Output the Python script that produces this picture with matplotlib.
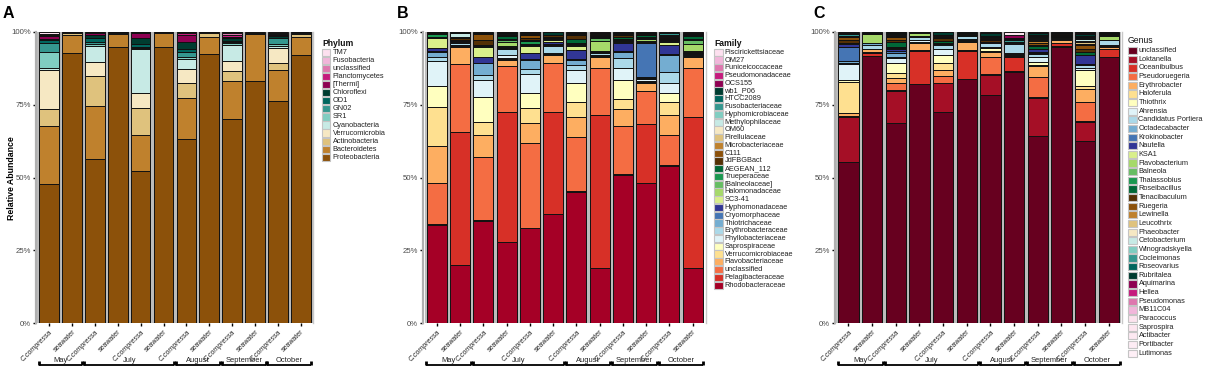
import matplotlib
matplotlib.use('Agg')
import matplotlib.pyplot as plt
import matplotlib.transforms as mtransforms
from matplotlib.patches import Rectangle
import numpy as np

plt.rcParams['font.family'] = ['Liberation Sans', 'DejaVu Sans']

W, H = 1205, 371

# ---------------- data ----------------
sample_labels = ['C.compressa', 'seawater'] * 6
months = ['May', 'July', 'August', 'September', 'October']
month_spans = [(0, 1), (2, 5), (6, 7), (8, 9), (10, 11)]

# Panel A: phyla (bottom -> top)
phylum_names = ['Proteobacteria', 'Bacteroidetes', 'Actinobacteria', 'Verrucomicrobia',
                'Cyanobacteria', 'SR1', 'GN02', 'OD1', 'Chloroflexi', '[Thermi]',
                'Planctomycetes', 'unclassified', 'Fusobacteria', 'TM7']
phylum_colors = ['#8C510A', '#BF812D', '#DFC27D', '#F6E8C3', '#C7EAE5', '#80CDC1',
                 '#35978F', '#01665E', '#003C30', '#8E0152', '#C51B7D', '#DE77AE',
                 '#F1B6DA', '#FDE0EF']
phylum_values = [
    [47.8, 92.9, 56.3, 94.7, 52.3, 95.0, 63.1, 92.4, 70.2, 83.0, 76.3, 92.1],
    [19.9, 6.1, 18.3, 4.7, 12.4, 4.8, 14.1, 6.0, 12.8, 16.3, 10.6, 6.1],
    [5.8, 0.6, 10.3, 0.3, 9.2, 0.1, 5.3, 1.3, 3.5, 0.5, 2.5, 1.1],
    [13.5, 0.2, 4.8, 0.1, 5.3, 0.1, 4.9, 0.2, 3.4, 0.2, 5.0, 0.4],
    [0.6, 0.1, 5.5, 0.1, 14.8, 0, 3.3, 0.1, 5.5, 0, 0.8, 0.2],
    [5.4, 0.1, 0.7, 0.1, 0.5, 0, 0.7, 0, 0.9, 0, 0.7, 0.1],
    [3.2, 0, 0.7, 0, 0.5, 0, 1.8, 0, 0.3, 0, 1.9, 0],
    [1.0, 0, 1.2, 0, 0.9, 0, 1.0, 0, 0.3, 0, 0.3, 0],
    [0.3, 0, 1.0, 0, 2.0, 0, 2.5, 0, 0.9, 0, 0.5, 0],
    [1.2, 0, 0.7, 0, 1.8, 0, 2.3, 0, 0.4, 0, 0.3, 0],
    [0.3, 0, 0.2, 0, 0.2, 0, 0.7, 0, 0.8, 0, 0.3, 0],
    [0.2, 0, 0.1, 0, 0.1, 0, 0.2, 0, 0.6, 0, 0.2, 0],
    [0.2, 0, 0.1, 0, 0, 0, 0.1, 0, 0.3, 0, 0.2, 0],
    [0.6, 0, 0.1, 0, 0, 0, 0, 0, 0.1, 0, 0.4, 0],
]

# Panel B: families (bottom -> top)
family_names = ['Rhodobacteraceae', 'Pelagibacteraceae', 'unclassified', 'Flavobacteriaceae',
                'Verrucomicrobiaceae', 'Saprospiraceae', 'Phyllobacteriaceae',
                'Erythrobacteraceae', 'Thiotrichaceae', 'Cryomorphaceae', 'Hyphomonadaceae',
                'SC3-41', 'Halomonadaceae', '[Balneolaceae]', 'Trueperaceae', 'AEGEAN_112',
                'JdFBGBact', 'C111', 'Microbacteriaceae', 'Pirellulaceae', 'OM60',
                'Methylophilaceae', 'Hyphomicrobiaceae', 'Fusobacteriaceae', 'HTCC2089',
                'wb1_P06', 'OCS155', 'Pseudomonadaceae', 'Puniceicoccaceae', 'OM27',
                'Piscirickettsiaceae']
family_colors = ['#A50026', '#D73027', '#F46D43', '#FDAE61', '#FEE090', '#FFFFBF',
                 '#E0F3F8', '#ABD9E9', '#74ADD1', '#4575B4', '#313695', '#D9EF8B',
                 '#A6D96A', '#66BD63', '#1A9850', '#006837', '#543005', '#8C510A',
                 '#BF812D', '#DFC27D', '#F6E8C3', '#C7EAE5', '#80CDC1', '#35978F',
                 '#01665E', '#003C30', '#8E0152', '#C51B7D', '#DE77AE', '#F1B6DA',
                 '#FDE0EF']
family_values = [
    [33.7, 20.1, 35.2, 27.9, 32.5, 37.3, 45.1, 18.8, 50.9, 48.2, 54.1, 18.8],
    [0.3, 45.6, 0.2, 44.5, 0.2, 35.1, 0.2, 52.7, 0.2, 20.2, 0.2, 51.9],
    [14.0, 23.2, 21.5, 15.8, 29.3, 16.8, 18.7, 16.0, 16.6, 11.4, 10.3, 16.9],
    [12.8, 5.8, 7.6, 2.2, 6.8, 2.9, 6.9, 4.0, 5.7, 2.8, 6.9, 3.9],
    [13.5, 0.3, 4.7, 0.3, 5.2, 0.2, 5.2, 0.3, 3.7, 0.2, 4.6, 0.3],
    [7.2, 0.2, 8.6, 0.2, 4.9, 0.2, 6.3, 0.2, 6.4, 0.2, 3.1, 0.2],
    [8.7, 0.3, 5.7, 1.2, 6.7, 0.3, 4.5, 0.2, 4.0, 0.7, 3.4, 0.2],
    [1.1, 0.8, 1.6, 2.2, 1.8, 2.4, 1.8, 0.5, 3.4, 0.6, 3.8, 0.3],
    [1.8, 0.4, 4.1, 0.3, 3.0, 0.3, 1.7, 0.2, 2.3, 0.3, 5.7, 0.2],
    [0.3, 0.2, 0.2, 0.2, 0.2, 0.3, 0.3, 0.2, 0.3, 11.6, 0.2, 0.2],
    [1.0, 0.2, 2.1, 0.2, 2.3, 0.9, 3.1, 0.2, 2.6, 0.3, 3.2, 0.2],
    [3.4, 0.1, 3.3, 0.3, 2.4, 0.5, 1.4, 0.3, 0.4, 0.3, 0.9, 0.4],
    [0.3, 0, 0.2, 1.2, 0.2, 0.4, 0.2, 3.2, 0.3, 0.7, 0.3, 2.3],
    [0.3, 0, 0.2, 0.8, 0.3, 0.2, 0.4, 1.3, 0.5, 0.6, 0.2, 1.5],
    [0.8, 0, 0.2, 0.3, 1.0, 0.2, 0.3, 0.2, 0.3, 0.3, 0.2, 0.2],
    [0.5, 0, 0.2, 1.0, 0.3, 0.3, 1.5, 0.3, 0.8, 0.5, 0.3, 1.2],
    [0.1, 0.6, 1.6, 0.4, 0.8, 0.5, 1.2, 0.2, 0.4, 0.5, 0.3, 0.2],
    [0.1, 0.5, 2.0, 0.4, 1.2, 0.3, 0.6, 0.2, 0.5, 0.4, 0.3, 0.2],
    [0.1, 0, 0.4, 0, 0.3, 0, 0.2, 0.2, 0.2, 0, 0.3, 0],
    [0, 0, 0.1, 0, 0.2, 0, 0, 0.3, 0, 0, 0, 0],
    [0, 0, 0, 0, 0.2, 0, 0.2, 0.1, 0, 0, 0, 0],
    [0, 1.2, 0, 0.2, 0.1, 0, 0, 0, 0, 0, 0.2, 0],
    [0, 0, 0, 0, 0, 0, 0, 0, 0, 0, 0.4, 0],
    [0, 0, 0, 0, 0, 0, 0, 0, 0.2, 0, 0.6, 0],
    [0, 0, 0.3, 0, 0.1, 0, 0, 0, 0.3, 0, 0.3, 0],
    [0, 0.4, 0, 0.3, 0, 0.8, 0.2, 0, 0, 0.2, 0, 0.2],
    [0, 0, 0, 0, 0, 0.1, 0, 0, 0, 0, 0, 0.5],
    [0, 0, 0, 0, 0, 0, 0, 0.4, 0, 0, 0, 0.2],
    [0, 0, 0, 0, 0, 0, 0, 0, 0, 0, 0, 0],
    [0, 0, 0, 0, 0, 0, 0, 0, 0, 0, 0, 0],
    [0, 0.1, 0, 0.1, 0, 0, 0, 0, 0, 0, 0.2, 0],
]

# Panel C: genera (bottom -> top)
genus_names = ['unclassified', 'Loktanella', 'Oceanibulbus', 'Pseudoruegeria', 'Erythrobacter',
               'Haloferula', 'Thiothrix', 'Ahrensia', 'Candidatus Portiera', 'Octadecabacter',
               'Krokinobacter', 'Nautella', 'KSA1', 'Flavobacterium', 'Balneola',
               'Thalassobius', 'Roseibacillus', 'Tenacibaculum', 'Ruegeria', 'Lewinella',
               'Leucothrix', 'Phaeobacter', 'Cetobacterium', 'Winogradskyella', 'Cocleimonas',
               'Roseovarius', 'Rubritalea', 'Aquimarina', 'Hellea', 'Pseudomonas', 'MB11C04',
               'Paracoccus', 'Saprospira', 'Actibacter', 'Portibacter', 'Lutimonas']
genus_colors = ['#67001F', '#A50F26', '#D73027', '#F46D43', '#FDAE61', '#FEE090',
                '#FFFFBF', '#E0F3F8', '#ABD9E9', '#74ADD1', '#4575B4', '#313695',
                '#D9EF8B', '#A6D96A', '#66BD63', '#1A9850', '#006837', '#543005',
                '#8C510A', '#BF812D', '#DFC27D', '#F6E8C3', '#C7EAE5', '#80CDC1',
                '#35978F', '#01665E', '#003C30', '#8E0152', '#C51B7D', '#DE77AE',
                '#F1B6DA', '#FCE3EE', '#FDE6F0', '#FDE9F2', '#FDECF4', '#FEEFF6']
genus_values = [
    [55.2, 91.8, 68.8, 82.0, 72.4, 83.7, 78.4, 86.4, 64.3, 95.0, 62.7, 91.3],
    [15.5, 0.1, 11.0, 0.2, 10.0, 0.2, 6.8, 0.2, 12.9, 0.1, 6.5, 0.2],
    [0.2, 1.0, 0.3, 11.4, 0.2, 9.7, 0.3, 4.9, 0.3, 1.1, 0.3, 2.6],
    [0.2, 0.2, 2.5, 0.3, 2.4, 0.2, 5.8, 0.2, 6.9, 0.1, 6.6, 0.2],
    [1.0, 0.9, 1.5, 2.2, 1.9, 2.9, 1.9, 0.3, 3.9, 0.9, 4.2, 0.5],
    [10.6, 0.1, 1.9, 0.2, 2.3, 0.2, 0.3, 0.2, 0.4, 0, 1.1, 0.1],
    [0.8, 0, 3.5, 0.4, 2.9, 0.3, 1.0, 0.2, 1.1, 0, 5.5, 0.2],
    [5.4, 0, 1.5, 0.6, 1.9, 0.4, 0.4, 0.4, 1.5, 0.3, 0.7, 0.3],
    [0.4, 1.4, 0.5, 0.9, 1.5, 1.0, 1.2, 3.0, 1.1, 0.6, 1.1, 1.8],
    [0.6, 0.8, 1.2, 0.3, 0.3, 0, 0.3, 0.3, 0.4, 0, 0.2, 0.2],
    [4.9, 0, 0.6, 0, 0.2, 0, 0, 0, 0.2, 0, 0.2, 0],
    [1.2, 0, 0.7, 0, 0.3, 0, 0, 0, 1.0, 0, 3.0, 0],
    [0.1, 0, 0.2, 0, 0, 0, 0, 0, 0, 0, 0, 0],
    [0.1, 2.9, 0.2, 1.2, 0, 0.3, 0, 0, 0, 0.3, 0, 1.2],
    [0, 0, 0.2, 0.2, 0, 0, 0, 0, 0, 0, 0, 0.5],
    [0, 0, 0.3, 0, 0, 0, 0, 0, 0, 0, 0, 0],
    [0, 0, 1.5, 0, 0.5, 0, 0.3, 0, 1.2, 0.3, 1.0, 0.3],
    [1.2, 0.4, 1.0, 0, 1.0, 0, 0.6, 0, 0.4, 0.3, 1.2, 0.3],
    [0.8, 0, 1.0, 0, 0.5, 0.3, 0.4, 0, 0.5, 0.3, 1.2, 0],
    [0.3, 0, 0.3, 0, 0.3, 0, 0.2, 0, 0.7, 0, 0.4, 0],
    [0, 0, 0.3, 0, 0.2, 0.6, 0.4, 0, 0.3, 0.5, 0.5, 0],
    [0, 0, 0.2, 0, 0, 0, 0, 0, 0.4, 0, 0.5, 0],
    [0, 0, 0.2, 0, 0, 0, 0, 0.3, 0.6, 0, 0.6, 0],
    [0, 0, 0, 0, 0, 0, 0, 0.2, 0.2, 0, 0.4, 0],
    [0.8, 0, 0.2, 0, 0, 0, 0, 0.5, 0.4, 0, 0.4, 0],
    [0.3, 0, 0.3, 0, 0.3, 0, 0.3, 0.5, 0.4, 0, 0.4, 0],
    [0.2, 0.4, 0.1, 0.1, 0.8, 0.2, 1.0, 0.3, 0.5, 0.2, 0.5, 0.3],
    [0, 0, 0, 0, 0.1, 0, 0.2, 1.0, 0.4, 0, 0.4, 0],
    [0, 0, 0, 0, 0, 0, 0, 0, 0, 0, 0.3, 0],
    [0, 0, 0, 0, 0, 0, 0, 0, 0, 0, 0.1, 0],
    [0, 0, 0, 0, 0, 0, 0, 0, 0, 0, 0, 0],
    [0.2, 0, 0, 0, 0, 0, 0.2, 1.1, 0, 0, 0, 0],
    [0, 0, 0, 0, 0, 0, 0, 0, 0, 0, 0, 0],
    [0, 0, 0, 0, 0, 0, 0, 0, 0, 0, 0, 0],
    [0, 0, 0, 0, 0, 0, 0, 0, 0, 0, 0, 0],
    [0, 0, 0, 0, 0, 0, 0, 0, 0, 0, 0, 0],
]

# ---------------- drawing ----------------
fig = plt.figure(figsize=(W / 100, H / 100), dpi=100)

Y0, Y1 = 323, 32  # pixel rows for 0% and 100%


def fx(x):
    return x / W


def fy(y):
    return 1 - y / H


def draw_panel(left_px, right_px, names, colors, values, xlim, ylabel=None):
    ax = fig.add_axes([fx(left_px), fy(Y0), (right_px - left_px) / W, (Y0 - Y1) / H])
    vals = np.array(values, dtype=float) / 100.0
    n = vals.shape[1]
    x = np.arange(n)
    tot = vals.sum(axis=0)
    ax.bar(x, tot, width=0.93, color='none', edgecolor='#b5b5b5', linewidth=1.3, zorder=1)
    bottom = np.zeros(n)
    for row, c in zip(vals, colors):
        m = row > 0
        ax.bar(x[m], row[m], bottom=bottom[m], width=0.86, color=c,
               edgecolor='#111111', linewidth=0.7, zorder=2)
        bottom += row
    ax.set_xlim(*xlim)
    ax.set_ylim(0, 1.0)
    ax.set_yticks([0, 0.25, 0.5, 0.75, 1.0])
    ax.set_yticklabels(['0%', '25%', '50%', '75%', '100%'])
    ax.set_xticks(x)
    ax.set_xticklabels(sample_labels, rotation=45, ha='right', va='top',
                       rotation_mode='anchor')
    for lab in ax.get_xticklabels():
        if lab.get_text().startswith('C.'):
            lab.set_fontstyle('italic')
    ax.tick_params(axis='y', length=2.5, width=1.0, color='black', labelsize=5.6,
                   labelcolor='#4a4a4a', pad=1)
    ax.tick_params(axis='x', length=2.5, width=1.0, color='black', labelsize=5.0,
                   labelcolor='#222222', pad=1.5)
    for s in ['top', 'bottom']:
        ax.spines[s].set_visible(False)
    ax.spines['left'].set_color('#b0b0b0')
    ax.spines['left'].set_linewidth(1.6)
    ax.spines['right'].set_color('#c8c8c8')
    ax.spines['right'].set_linewidth(1.0)
    ax.set_facecolor('white')

    tr = mtransforms.blended_transform_factory(ax.transData, fig.transFigure)
    yl = fy(364.5)
    ycap = fy(361)
    for mname, (i, j) in zip(months, month_spans):
        xa, xb = i - 0.46, j + 0.46
        ax.plot([xa, xb], [yl, yl], color='black', lw=1.3, transform=tr, clip_on=False,
                solid_capstyle='butt')
        for xe in (xa, xb):
            ax.plot([xe, xe], [yl, ycap], color='black', lw=2.0, transform=tr,
                    clip_on=False, solid_capstyle='butt')
        ax.text((i + j) / 2, fy(360.5), mname, transform=tr, ha='center', va='center',
                fontsize=5.4, color='#222222')
    if ylabel:
        fig.text(fx(12), fy(178), ylabel, rotation=90, ha='center', va='center',
                 fontsize=6.3, fontweight='bold')
    return ax


def draw_legend(x_px, title_y, first_y, dy, title, names, colors, bold=True,
                reverse=True):
    fig.text(fx(x_px), fy(title_y), title, ha='left', va='center', fontsize=6.2,
             fontweight='bold' if bold else 'normal', color='#111111')
    order = list(zip(names, colors))
    if reverse:
        order = order[::-1]
    for k, (nm, c) in enumerate(order):
        yc = first_y + k * dy
        fig.add_artist(Rectangle((fx(x_px), fy(yc + 3.6)), 8.5 / W, 7.2 / H,
                                 transform=fig.transFigure, facecolor=c,
                                 edgecolor='#c4c4c4', linewidth=0.8))
        fig.text(fx(x_px + 10.5), fy(yc), nm, ha='left', va='center', fontsize=5.3,
                 color='#222222')


draw_panel(36, 313, phylum_names, phylum_colors, phylum_values, (-0.57, 11.53),
           ylabel='Relative Abundance')
draw_panel(423, 706, family_names, family_colors, family_values, (-0.6, 11.58))
draw_panel(835, 1122, genus_names, genus_colors, genus_values, (-0.57, 11.56))

draw_legend(322, 43.5, 52.3, 8.08, 'Phylum', phylum_names, phylum_colors)
draw_legend(714, 43.5, 52.3, 7.76, 'Family', family_names, family_colors)
draw_legend(1128, 40.5, 50.7, 8.64, 'Genus', genus_names, genus_colors, bold=False,
            reverse=False)

for letter, lx in [('A', 3), ('B', 397), ('C', 813)]:
    fig.text(fx(lx), fy(13), letter, ha='left', va='center', fontsize=11.5,
             fontweight='bold')

fig.savefig('out.png', dpi=100)
